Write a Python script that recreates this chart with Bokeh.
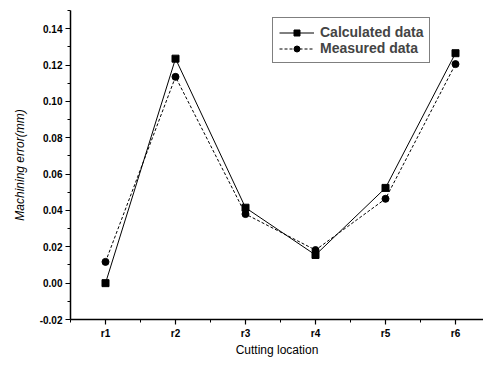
from bokeh.plotting import figure
from bokeh.models import FixedTicker, NumeralTickFormatter, Range1d, Legend, LegendItem
from bokeh.embed import file_html
from bokeh.resources import INLINE

categories = ["r1", "r2", "r3", "r4", "r5", "r6"]
positions = [1, 2, 3, 4, 5, 6]
calculated = [0.000, 0.1235, 0.0415, 0.0155, 0.0524, 0.1265]
measured = [0.0117, 0.1135, 0.0380, 0.0182, 0.0464, 0.1205]
y_ticks = [-0.02, 0.00, 0.02, 0.04, 0.06, 0.08, 0.10, 0.12, 0.14]
y_minor = [-0.01, 0.01, 0.03, 0.05, 0.07, 0.09, 0.11, 0.13, 0.15]
x_minor = [0.5, 1.5, 2.5, 3.5, 4.5, 5.5]

p = figure(width=483, height=359, output_backend="svg", toolbar_location=None,
           x_range=Range1d(0.5, 6.4), y_range=Range1d(-0.02, 0.15),
           min_border_left=70, min_border_right=0, min_border_top=10, min_border_bottom=39)
p.outline_line_color = None
p.grid.visible = False
p.background_fill_color = "white"

font = "Liberation Sans"
for ax in (p.xaxis[0], p.yaxis[0]):
    ax.axis_line_width = 1.5
    ax.axis_line_color = "black"
    ax.major_tick_line_color = "black"
    ax.minor_tick_line_color = "black"
    ax.major_tick_line_width = 1.2
    ax.major_tick_out = 5
    ax.major_tick_in = 0
    ax.minor_tick_out = 3
    ax.minor_tick_in = 0
    ax.major_label_text_font = font
    ax.major_label_text_font_style = "bold"
    ax.major_label_text_font_size = "10px"
    ax.major_label_text_color = "black"
    ax.axis_label_text_font = font
    ax.axis_label_text_font_size = "12px"
    ax.axis_label_text_color = "black"

p.xaxis.ticker = FixedTicker(ticks=positions, minor_ticks=x_minor)
p.xaxis.major_label_overrides = {pos: c for pos, c in zip(positions, categories)}
p.xaxis.axis_label = "Cutting location"
p.xaxis.axis_label_text_font_style = "normal"
p.xaxis.axis_label_standoff = 1
p.xaxis.major_label_standoff = 3

p.yaxis.ticker = FixedTicker(ticks=y_ticks, minor_ticks=y_minor)
p.yaxis.formatter = NumeralTickFormatter(format="0.00")
p.yaxis.axis_label = "Machining error(mm)"
p.yaxis.axis_label_text_font_style = "italic"
p.yaxis.axis_label_standoff = 10
p.yaxis.major_label_standoff = 3

l1 = p.line(positions, calculated, line_color="black", line_width=1)
s1 = p.scatter(positions, calculated, marker="square", size=7, color="black")
l2 = p.line(positions, measured, line_color="black", line_width=1, line_dash="3 2")
s2 = p.scatter(positions, measured, marker="circle", size=7, color="black")

legend = Legend(items=[LegendItem(label="Calculated data", renderers=[l1, s1]),
                       LegendItem(label="Measured data", renderers=[l2, s2])],
                location=(202, 256))
legend.border_line_color = "black"
legend.border_line_width = 1
legend.label_text_font = font
legend.label_text_font_style = "bold"
legend.label_text_font_size = "14px"
legend.glyph_width = 35
legend.glyph_height = 15
legend.label_height = 15
legend.spacing = 0
legend.padding = 6
legend.margin = 0
legend.label_standoff = 6
p.add_layout(legend, "center")

open("out.html", "w").write(file_html(p, INLINE))
